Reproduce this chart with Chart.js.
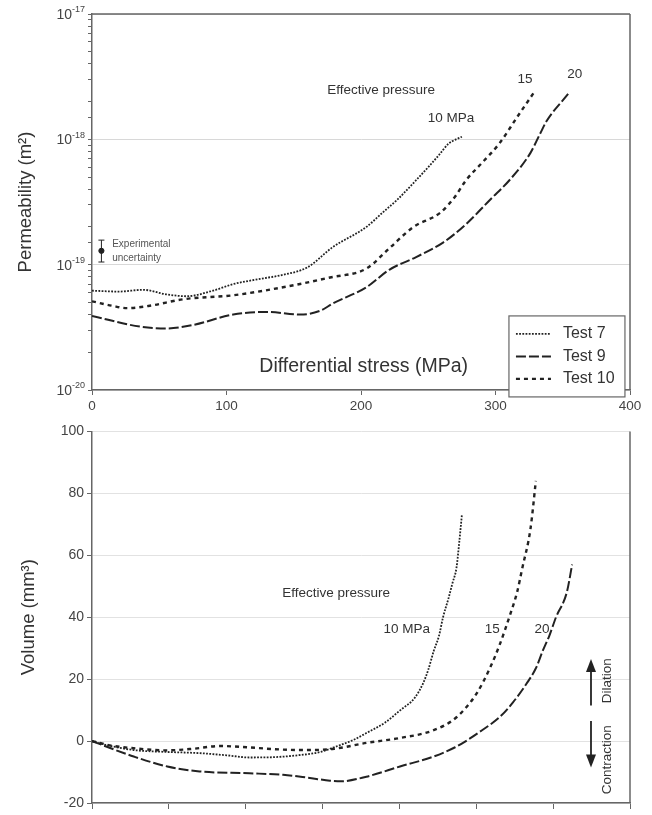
<!DOCTYPE html>
<html>
<head>
<meta charset="utf-8">
<script src="https://cdn.jsdelivr.net/npm/chart.js@4.4.1/dist/chart.umd.min.js"></script>
<style>
  body { margin: 0; background: #fff; }
  #wrap { position: relative; width: 652px; height: 815px; }
  #permChart { position: absolute; left: 0; top: 0; }
  #volChart { position: absolute; left: 0; top: 420px; }
</style>
</head>
<body>
<div id="wrap">
  <canvas id="permChart" width="652" height="420"></canvas>
  <canvas id="volChart" width="652" height="395"></canvas>
</div>
<script>
// Permeability (m2) vs differential stress (MPa)
const test7Stress = [0, 20, 38, 55, 70, 90, 105, 125, 142, 160, 179, 204, 216, 227, 240, 250, 258, 265, 275];
const test7Perm = [6.2e-20, 6.1e-20, 6.3e-20, 5.8e-20, 5.6e-20, 6.2e-20, 7.0e-20, 7.7e-20, 8.3e-20, 9.5e-20, 1.38e-19, 2.0e-19, 2.6e-19, 3.3e-19, 4.6e-19, 6.0e-19, 7.5e-19, 9.2e-19, 1.05e-18];

const test9Stress = [0, 36, 56, 75, 105, 130, 155, 170, 179, 204, 221, 241, 261, 278, 296, 311, 326, 333, 338, 354];
const test9Perm = [3.9e-20, 3.2e-20, 3.1e-20, 3.3e-20, 4.0e-20, 4.2e-20, 4.0e-20, 4.3e-20, 4.9e-20, 6.6e-20, 9.1e-20, 1.15e-19, 1.5e-19, 2.1e-19, 3.3e-19, 4.8e-19, 7.8e-19, 1.1e-18, 1.4e-18, 2.3e-18];

const test10Stress = [0, 15, 26, 43, 68, 105, 142, 177, 204, 221, 239, 259, 270, 278, 290, 303, 316, 329];
const test10Perm = [5.1e-20, 4.7e-20, 4.5e-20, 4.7e-20, 5.3e-20, 5.7e-20, 6.6e-20, 7.9e-20, 9.3e-20, 1.35e-19, 2.0e-19, 2.6e-19, 3.5e-19, 4.7e-19, 6.5e-19, 9.3e-19, 1.5e-18, 2.4e-18];

// Experimental uncertainty marker
const uncStress = [7];
const uncPerm = [1.29e-19];
const uncLow = [1.05e-19];
const uncHigh = [1.57e-19];

// Volume (mm3) vs differential stress (MPa)
const vol7Stress = [0, 10, 31, 55, 80, 100, 117, 135, 155, 170, 180, 195, 204, 218, 229, 240, 246, 250, 254, 258, 261, 265, 268, 271, 273, 275];
const vol7 = [0, -1.2, -2.9, -3.5, -3.9, -4.6, -5.3, -5.2, -4.5, -3.5, -2, 0.5, 2.6, 6, 9.9, 14, 18.5, 23, 29, 34, 40, 46, 51, 56, 64, 73];

const vol9Stress = [0, 15, 31, 56, 80, 117, 142, 160, 177, 185, 204, 229, 254, 270, 278, 290, 303, 313, 323, 330, 335, 340, 345, 353, 357];
const vol9 = [0, -2.5, -5, -8.2, -9.8, -10.4, -10.9, -11.8, -12.8, -13, -11.5, -8.2, -5, -2, 0, 3.5, 7.7, 12.5, 18.5, 23.5, 29, 34, 40, 48, 57];

const vol10Stress = [0, 15, 31, 55, 75, 95, 115, 135, 155, 180, 204, 229, 254, 271, 286, 296, 303, 311, 316, 320, 326, 330];
const vol10 = [0, -1.5, -2.3, -3.0, -2.5, -1.6, -2.0, -2.6, -2.9, -2.5, -0.6, 1, 3.5, 7.7, 15.4, 23.7, 31, 41, 48, 56, 68.5, 84];

const xTicksTop = [0, 100, 200, 300, 400];
const permDecades = [-20, -19, -18, -17]; // tick labels 10^n
const xTickCountBottom = 7; // unlabelled tick marks under the volume panel
const volTicks = [-20, 0, 20, 40, 60, 80, 100];

const pairs = (xs, ys) => xs.map((x, i) => ({ x, y: ys[i] }));
const FONT = '"Liberation Sans", Arial, sans-serif';
const INK = '#222';
const AXIS = '#666';

const lineStyle = {
  t7: { borderDash: [1.8, 1.4], borderWidth: 1.8 },
  t9: { borderDash: [10, 3], borderWidth: 2 },
  t10: { borderDash: [4, 4], borderWidth: 2.4 },
};

function lineSet(label, data, style) {
  return {
    label, data, borderColor: INK, backgroundColor: INK, pointRadius: 0,
    tension: 0.4, cubicInterpolationMode: 'monotone', fill: false, ...style,
  };
}

// plugin: box edges around plot area
function frame(sides) {
  return {
    id: 'frame',
    afterDraw(chart) {
      const { ctx, chartArea: a } = chart;
      ctx.save();
      ctx.strokeStyle = AXIS;
      ctx.lineWidth = 1.5;
      ctx.beginPath();
      if (sides.includes('top')) { ctx.moveTo(a.left, a.top); ctx.lineTo(a.right, a.top); }
      if (sides.includes('right')) { ctx.moveTo(a.right, a.top); ctx.lineTo(a.right, a.bottom); }
      ctx.stroke();
      ctx.restore();
    }
  };
}

function drawText(ctx, txt, x, y, size, opts = {}) {
  ctx.save();
  ctx.font = `${size}px ${FONT}`;
  ctx.fillStyle = opts.color || '#333';
  ctx.textAlign = opts.align || 'center';
  ctx.textBaseline = 'middle';
  ctx.translate(x, y);
  if (opts.rotate) ctx.rotate(opts.rotate);
  ctx.fillText(txt, 0, 0);
  ctx.restore();
}

// decade labels with a raised exponent, e.g. 10^-18
const decadeLabels = {
  id: 'decadeLabels',
  afterDraw(chart) {
    const { ctx, scales: { y } } = chart;
    const right = y.right - 7;
    permDecades.forEach(e => {
      const py = y.getPixelForValue(Math.pow(10, e));
      ctx.save();
      ctx.fillStyle = '#444';
      ctx.textBaseline = 'middle';
      ctx.textAlign = 'left';
      ctx.font = `9px ${FONT}`;
      const expTxt = String(e);
      const ew = ctx.measureText(expTxt).width;
      ctx.font = `14px ${FONT}`;
      const bw = ctx.measureText('10').width;
      const x0 = right - ew - bw;
      ctx.fillText('10', x0, py + 1);
      ctx.font = `9px ${FONT}`;
      ctx.fillText(expTxt, x0 + bw, py - 4);
      ctx.restore();
    });
  }
};

const permNotes = {
  id: 'permNotes',
  afterDraw(chart) {
    const { ctx, scales: { x, y } } = chart;
    drawText(ctx, 'Effective pressure', x.getPixelForValue(215), y.getPixelForValue(2.47e-18), 13.5);
    drawText(ctx, '10 MPa', x.getPixelForValue(267), y.getPixelForValue(1.48e-18), 13.5);
    drawText(ctx, '15', x.getPixelForValue(322), y.getPixelForValue(3.03e-18), 13.5);
    drawText(ctx, '20', x.getPixelForValue(359), y.getPixelForValue(3.32e-18), 13.5);
    drawText(ctx, 'Differential stress (MPa)', x.getPixelForValue(202), y.getPixelForValue(1.55e-20), 19.5);

    // uncertainty bar
    ctx.save();
    ctx.strokeStyle = INK;
    ctx.lineWidth = 1;
    uncStress.forEach((s, i) => {
      const px = x.getPixelForValue(s);
      const lo = y.getPixelForValue(uncLow[i]);
      const hi = y.getPixelForValue(uncHigh[i]);
      ctx.beginPath();
      ctx.moveTo(px, lo); ctx.lineTo(px, hi);
      ctx.moveTo(px - 3, lo); ctx.lineTo(px + 3, lo);
      ctx.moveTo(px - 3, hi); ctx.lineTo(px + 3, hi);
      ctx.stroke();
    });
    ctx.restore();
    const tx = x.getPixelForValue(15);
    drawText(ctx, 'Experimental', tx, y.getPixelForValue(1.45e-19), 10, { align: 'left', color: '#555' });
    drawText(ctx, 'uncertainty', tx, y.getPixelForValue(1.13e-19), 10, { align: 'left', color: '#555' });

    // legend box
    const lx = x.getPixelForValue(310), ly = y.getPixelForValue(3.9e-20);
    const w = 116, h = 81;
    ctx.save();
    ctx.fillStyle = '#fff';
    ctx.fillRect(lx, ly, w, h);
    ctx.strokeStyle = AXIS;
    ctx.lineWidth = 1.2;
    ctx.strokeRect(lx, ly, w, h);
    const ds = chart.data.datasets.filter(d => d.label.startsWith('Test'));
    ds.forEach((d, i) => {
      const yy = ly + 18 + i * 22.5;
      ctx.save();
      ctx.strokeStyle = d.borderColor;
      ctx.lineWidth = d.borderWidth;
      ctx.setLineDash(d.borderDash);
      ctx.beginPath();
      ctx.moveTo(lx + 7, yy); ctx.lineTo(lx + 42, yy);
      ctx.stroke();
      ctx.restore();
      drawText(ctx, d.label, lx + 54, yy, 16, { align: 'left', color: '#333' });
    });
    ctx.restore();
  }
};

const volNotes = {
  id: 'volNotes',
  afterDraw(chart) {
    const { ctx, scales: { x, y } } = chart;
    drawText(ctx, 'Effective pressure', x.getPixelForValue(181.5), y.getPixelForValue(47.7), 13.5);
    drawText(ctx, '10 MPa', x.getPixelForValue(234), y.getPixelForValue(36.2), 13.5);
    drawText(ctx, '15', x.getPixelForValue(297.5), y.getPixelForValue(36.2), 13.5);
    drawText(ctx, '20', x.getPixelForValue(334.5), y.getPixelForValue(36.2), 13.5);
    const rx = x.getPixelForValue(383);
    drawText(ctx, 'Dilation', rx, y.getPixelForValue(19.5), 13.5, { rotate: -Math.PI / 2 });
    drawText(ctx, 'Contraction', rx, y.getPixelForValue(-6), 13.5, { rotate: -Math.PI / 2 });

    const ax = x.getPixelForValue(371);
    const arrow = (from, to) => {
      const y0 = y.getPixelForValue(from), y1 = y.getPixelForValue(to);
      const dir = Math.sign(y1 - y0);
      ctx.save();
      ctx.strokeStyle = INK; ctx.fillStyle = INK; ctx.lineWidth = 1.8;
      ctx.beginPath(); ctx.moveTo(ax, y0); ctx.lineTo(ax, y1 - dir * 10); ctx.stroke();
      ctx.beginPath();
      ctx.moveTo(ax, y1); ctx.lineTo(ax - 5, y1 - dir * 13); ctx.lineTo(ax + 5, y1 - dir * 13);
      ctx.closePath(); ctx.fill();
      ctx.restore();
    };
    arrow(11.5, 26.5);
    arrow(6.5, -8.5);
  }
};

new Chart(document.getElementById('permChart'), {
  type: 'line',
  data: {
    datasets: [
      lineSet('Test 7', pairs(test7Stress, test7Perm), lineStyle.t7),
      lineSet('Test 9', pairs(test9Stress, test9Perm), lineStyle.t9),
      lineSet('Test 10', pairs(test10Stress, test10Perm), lineStyle.t10),
      { label: 'uncertainty', data: pairs(uncStress, uncPerm), showLine: false, pointRadius: 2.6,
        pointBackgroundColor: INK, pointBorderColor: INK },
    ]
  },
  options: {
    responsive: false,
    animation: false,
    layout: { padding: { top: 14, right: 22, left: 0, bottom: 0 } },
    plugins: { legend: { display: false }, tooltip: { enabled: false } },
    scales: {
      x: {
        type: 'linear', min: 0, max: 400,
        afterFit: s => { s.height = 30; },
        afterBuildTicks: s => { s.ticks = xTicksTop.map(v => ({ value: v })); },
        ticks: { color: '#444', font: { family: FONT, size: 13.5 }, padding: 3, maxRotation: 0 },
        grid: { drawOnChartArea: false, tickLength: 5, tickColor: AXIS },
        border: { color: AXIS, width: 1.5 },
      },
      y: {
        type: 'logarithmic', min: 1e-20, max: 1e-17,
        afterFit: s => { s.width = 92; },
        ticks: { autoSkip: false, callback: () => '' },
        grid: {
          tickLength: 4, tickColor: AXIS,
          color: c => {
            const e = Math.log10(c.tick.value);
            return Math.abs(e - Math.round(e)) < 1e-6 ? '#d8d8d8' : 'rgba(0,0,0,0)';
          }
        },
        border: { color: AXIS, width: 1.5 },
        title: { display: true, text: 'Permeability (m²)', color: '#333', font: { family: FONT, size: 18.5 }, padding: { top: 15, bottom: 0 } },
      }
    }
  },
  plugins: [frame(['top', 'right']), decadeLabels, permNotes]
});

new Chart(document.getElementById('volChart'), {
  type: 'line',
  data: {
    datasets: [
      lineSet('Test 7', pairs(vol7Stress, vol7), lineStyle.t7),
      lineSet('Test 9', pairs(vol9Stress, vol9), lineStyle.t9),
      lineSet('Test 10', pairs(vol10Stress, vol10), lineStyle.t10),
    ]
  },
  options: {
    responsive: false,
    animation: false,
    layout: { padding: { top: 8, right: 22, left: 0, bottom: 0 } },
    plugins: { legend: { display: false }, tooltip: { enabled: false } },
    scales: {
      x: {
        type: 'linear', min: 0, max: 400,
        afterFit: s => { s.height = 12; },
        afterBuildTicks: s => {
          s.ticks = Array.from({ length: xTickCountBottom + 1 }, (_, i) => ({ value: s.min + (s.max - s.min) * i / xTickCountBottom }));
        },
        ticks: { display: false },
        grid: { drawOnChartArea: false, tickLength: 6, tickColor: AXIS },
        border: { color: AXIS, width: 1.5 },
      },
      y: {
        type: 'linear', min: -20, max: 100,
        afterFit: s => { s.width = 92; },
        afterBuildTicks: s => { s.ticks = volTicks.map(v => ({ value: v })); },
        ticks: { color: '#444', font: { family: FONT, size: 14 }, padding: 3 },
        grid: { tickLength: 5, tickColor: AXIS, color: '#e2e2e2' },
        border: { color: AXIS, width: 1.5 },
        title: { display: true, text: 'Volume (mm³)', color: '#333', font: { family: FONT, size: 18.5 }, padding: { top: 18, bottom: 0 } },
      }
    }
  },
  plugins: [frame(['right']), volNotes]
});
</script>
</body>
</html>
